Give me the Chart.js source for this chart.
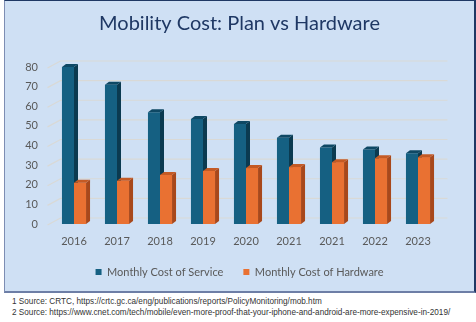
<!DOCTYPE html>
<html>
<head>
<meta charset="utf-8">
<script src="https://cdn.jsdelivr.net/npm/chart.js@4.4.1/dist/chart.umd.min.js"></script>
<style>
  html, body { margin: 0; padding: 0; background: #ffffff; width: 476px; height: 322px; overflow: hidden; }
  #panel { position: absolute; left: 4px; top: 0; width: 469px; height: 290px;
    background: #cfe0f4; border-top: 1px solid #1f3864; border-right: 2px solid #1f3864;
    border-bottom: 2px solid #6d7ea6; border-left: 1px solid #7d8db3; }
  #c { display: block; }
  #notes { position: absolute; left: 12px; top: 296px; font-family: "Liberation Sans", Arial, sans-serif;
    font-size: 8.2px; line-height: 11px; color: #333333; white-space: nowrap; }
</style>
</head>
<body>
<div id="panel"><canvas id="c" width="469" height="290"></canvas></div>
<div id="notes">
  <div>1 Source: CRTC, https://crtc.gc.ca/eng/publications/reports/PolicyMonitoring/mob.htm</div>
  <div>2 Source: https://www.cnet.com/tech/mobile/even-more-proof-that-your-iphone-and-android-are-more-expensive-in-2019/</div>
</div>
<script>
const categories = ['2016', '2017', '2018', '2019', '2020', '2021', '2021', '2022', '2023'];
const serviceCost = [80, 71, 57, 53.5, 51, 44, 39, 38, 36];
const hardwareCost = [21, 22, 25, 27, 28.5, 29, 31.5, 33.5, 34];
const yMin = 0, yMax = 80, yStep = 10;

const FONT = 'Lato, "Open Sans", sans-serif';
const DX = 4, DY = 3;

const backWall = {
  id: 'backWall',
  beforeDatasetsDraw(chart) {
    const ctx = chart.ctx, a = chart.chartArea, ys = chart.scales.y;
    ctx.save();
    ctx.strokeStyle = '#d9d9d6';
    ctx.lineWidth = 1.2;
    for (let v = yMin; v <= yMax; v += yStep) {
      const y = ys.getPixelForValue(v);
      ctx.beginPath();
      ctx.moveTo(a.left - 5, y + 1);
      ctx.lineTo(a.left + 8, y - 6);
      ctx.lineTo(a.right + 8, y - 6);
      ctx.stroke();
    }
    ctx.restore();
  }
};

// Draws the depth faces; series drawn left to right so each front face overlaps the previous side face.
const bars3d = {
  id: 'bars3d',
  afterDatasetsDraw(chart) {
    const ctx = chart.ctx;
    chart.data.datasets.forEach((ds, i) => {
      const meta = chart.getDatasetMeta(i);
      if (!meta.visible) return;
      meta.data.forEach(el => {
        if (i > 0) el.draw(ctx, chart.chartArea);
        const p = el.getProps(['x', 'y', 'base', 'width'], true);
        const l = p.x - p.width / 2, r = p.x + p.width / 2;
        ctx.save();
        ctx.fillStyle = ds.sideColor;
        ctx.beginPath();
        ctx.moveTo(r, p.y); ctx.lineTo(r + DX, p.y - DY); ctx.lineTo(r + DX, p.base - DY); ctx.lineTo(r, p.base);
        ctx.closePath(); ctx.fill();
        ctx.fillStyle = ds.topColor;
        ctx.beginPath();
        ctx.moveTo(l, p.y); ctx.lineTo(l + DX, p.y - DY); ctx.lineTo(r + DX, p.y - DY); ctx.lineTo(r, p.y);
        ctx.closePath(); ctx.fill();
        ctx.restore();
      });
    });
  }
};

new Chart(document.getElementById('c'), {
  type: 'bar',
  data: {
    labels: categories,
    datasets: [
      { label: 'Monthly Cost of Service', data: serviceCost, backgroundColor: '#156082',
        sideColor: '#0b3a50', topColor: '#0e4864' },
      { label: 'Monthly Cost of Hardware', data: hardwareCost, backgroundColor: '#e97132',
        sideColor: '#a8481b', topColor: '#c45a24' }
    ]
  },
  options: {
    responsive: false,
    animation: false,
    devicePixelRatio: 1,
    layout: { padding: { top: 0, left: 0, right: 0, bottom: 3.5 } },
    datasets: { bar: { barPercentage: 1, categoryPercentage: 0.56, borderWidth: 0 } },
    plugins: {
      title: { display: true, text: 'Mobility Cost: Plan vs Hardware', color: '#1f3864',
        font: { family: FONT, size: 20, weight: 'normal' }, padding: { top: 11, bottom: 31 } },
      legend: { position: 'bottom',
        labels: { boxWidth: 6, boxHeight: 6, padding: 20, color: '#595959',
          font: { family: FONT, size: 11 },
          generateLabels(chart) {
            const items = Chart.defaults.plugins.legend.labels.generateLabels(chart);
            return items.sort((a, b) => a.datasetIndex - b.datasetIndex);
          } } },
      tooltip: { enabled: false }
    },
    scales: {
      x: { grid: { display: false, drawTicks: false }, border: { display: false },
        ticks: { color: '#595959', font: { family: FONT, size: 11 }, padding: 11, maxRotation: 0 },
        afterFit(s) { s.height = 22.5; } },
      y: { min: yMin, max: yMax, grid: { display: false, drawTicks: false }, border: { display: false },
        ticks: { stepSize: yStep, color: '#595959', font: { family: FONT, size: 11 }, padding: 14.5 },
        afterFit(s) { s.width = 47.5; } },
      y2: { position: 'right', display: true, grid: { display: false, drawTicks: false }, border: { display: false },
        ticks: { display: false }, afterFit(s) { s.width = 34.5; } }
    }
  },
  plugins: [backWall, bars3d]
});
</script>
</body>
</html>
